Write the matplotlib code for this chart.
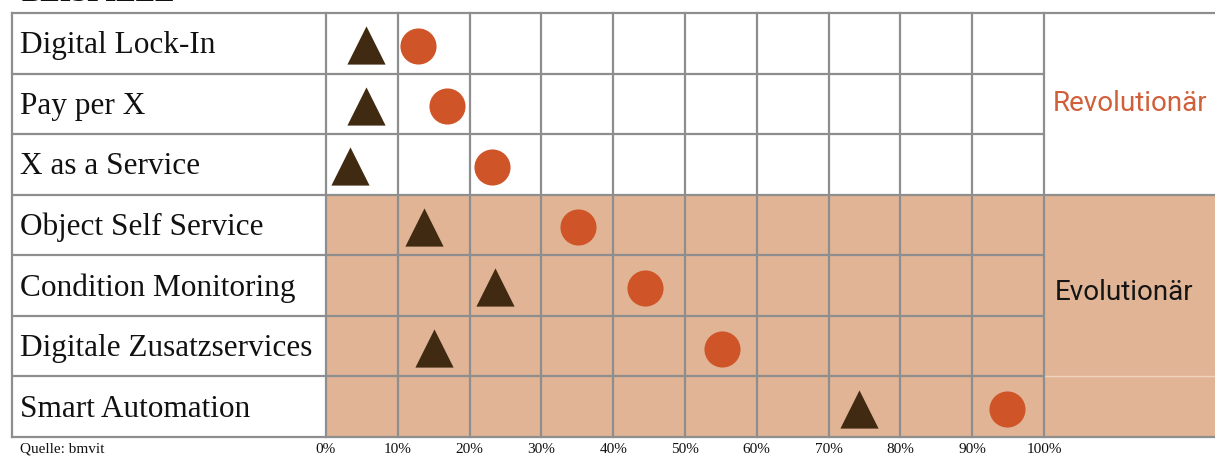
import matplotlib
matplotlib.use("Agg")
import matplotlib.pyplot as plt
from matplotlib.patches import Rectangle

# Data
categories = [
    "Digital Lock-In",
    "Pay per X",
    "X as a Service",
    "Object Self Service",
    "Condition Monitoring",
    "Digitale Zusatzservices",
    "Smart Automation",
]
triangle_values = [5.6, 5.6, 3.4, 13.6, 23.5, 15.0, 74.2]   # %
circle_values = [12.8, 16.9, 23.1, 35.1, 44.4, 55.2, 94.8]   # %
tick_values = list(range(0, 101, 10))
tick_labels = [f"{v}%" for v in tick_values]
group_labels = ["Revolutionär", "Evolutionär"]

# Styling
W, H, DPI = 1215, 458, 100
GRID = "#8e8e8e"
SHADE = "#e1b496"
TRI = "#412a12"
CIRC = "#cf5528"
SERIF = ["Liberation Serif", "DejaVu Serif"]
SANS = ["Roboto", "DejaVu Sans"]

fig = plt.figure(figsize=(W / DPI, H / DPI), dpi=DPI)
fig.patch.set_facecolor("white")

# table area in pixels
left_px, right_px, top_px, bot_px = 12, 1215, 13, 437
x0_px, x100_px = 326, 1044
ppu = (x100_px - x0_px) / 100.0
xmin = (left_px - x0_px) / ppu
xmax = (right_px - x0_px) / ppu

ax = fig.add_axes([left_px / W, (H - bot_px) / H,
                   (right_px - left_px) / W, (bot_px - top_px) / H])
ax.set_xlim(xmin, xmax)
n = len(categories)
ax.set_ylim(n, 0)
for s in ax.spines.values():
    s.set_visible(False)
ax.set_yticks([])
ax.set_xticks(tick_values)
ax.set_xticklabels(tick_labels, fontsize=11, family=SERIF, color="#111111")
ax.tick_params(axis="x", length=0, pad=4)

# shaded "evolutionary" block
ax.add_patch(Rectangle((0, 3), xmax, n - 3, facecolor=SHADE, edgecolor="none", zorder=0))

lw = 1.6
# horizontal lines inside grid and label column
for r in range(1, n):
    ax.plot([xmin, 100], [r, r], color=GRID, lw=lw, zorder=1, solid_capstyle="butt")
# right column separators
ax.plot([100, xmax], [3, 3], color=GRID, lw=lw, zorder=1)
ax.plot([100, xmax], [6, 6], color="#efd3bf", lw=1.0, zorder=1)
# outer top/bottom
ax.plot([xmin, xmax], [0, 0], color=GRID, lw=lw, zorder=1, clip_on=False)
ax.plot([xmin, xmax], [n, n], color=GRID, lw=lw, zorder=1, clip_on=False)
# vertical lines
for v in tick_values:
    ax.plot([v, v], [0, n], color=GRID, lw=lw, zorder=1, clip_on=False)
ax.plot([xmin, xmin], [0, n], color=GRID, lw=lw, zorder=1, clip_on=False)

# markers
ys = [i + 0.5 for i in range(n)]
ax.scatter(triangle_values, [y + 0.03 for y in ys], marker="^", s=27.5 ** 2,
           color=TRI, linewidths=0, zorder=3)
ax.scatter(circle_values, [y + 0.04 for y in ys], marker="o", s=26 ** 2,
           color=CIRC, linewidths=0, zorder=3)

# row labels
lab_x = (20 - x0_px) / ppu
for y, c in zip(ys, categories):
    ax.text(lab_x, y + 0.04, c, fontsize=22.5, family=SERIF, color="#111111",
            va="center", ha="left", zorder=4)

# group labels
ax.text((1053 - x0_px) / ppu, 1.5, group_labels[0], fontsize=20, family=SANS,
        fontweight="normal", color="#d0603a", va="center", ha="left")
ax.text((1055 - x0_px) / ppu, 4.62, group_labels[1], fontsize=20, family=SANS,
        fontweight="normal", color="#151515", va="center", ha="left")

# source note and heading
fig.text(20 / W, 1 - 449 / H, "Quelle: bmvit", fontsize=11, family=SERIF,
         color="#111111", va="center", ha="left")
fig.text(22 / W, 1 - 1 / H, "BEISPIELE", fontsize=21, family=SERIF,
         fontweight="bold", color="#111111", va="baseline", ha="left")

fig.savefig("out.png", dpi=DPI)
